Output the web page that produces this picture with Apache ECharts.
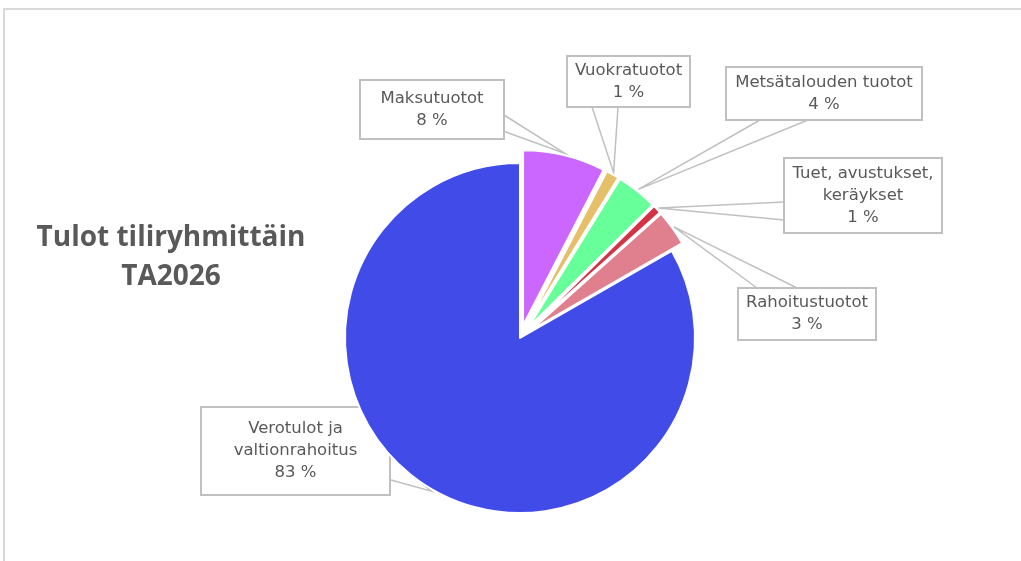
<!DOCTYPE html>
<html>
<head>
<meta charset="utf-8">
<script src="https://cdn.jsdelivr.net/npm/echarts@6/dist/echarts.min.js"></script>
<style>
  html, body { margin: 0; padding: 0; background: #fff; }
  #chart { width: 1021px; height: 561px; }
</style>
</head>
<body>
<div id="chart"></div>
<script>
// tiliryhmät ja osuudet (%)
const categories = ['Maksutuotot', 'Vuokratuotot', 'Metsätalouden tuotot', 'Tuet, avustukset,\nkeräykset', 'Rahoitustuotot', 'Verotulot ja\nvaltionrahoitus'];
const values = [7.6, 1.2, 3.8, 0.8, 3.3, 83.3];
const exploded = [true, true, true, true, true, false];
const colors = ['#CB66FF', '#E6BF69', '#66FF99', '#D43346', '#E0808F', '#404BE8'];

// layout: label boxes [cx, cy, w, h] and the two points where the pointer leaves the box
const pieCenter = [520, 338];
const pieRadius = 175;
const explodeOffset = 13;
const lineH = 22;
const labelBoxes = [[432, 109.5, 144, 59], [628.5, 81.5, 123, 51], [824, 93.5, 196, 53], [863, 195.5, 158, 75], [807, 314, 138, 52], [295.5, 451, 189, 88]];
const pointerBase = [[[504, 115], [503, 131]], [[592, 107], [618, 107]], [[760, 120], [808, 120]], [[784, 202], [784, 220]], [[757, 288], [797, 288]], [[391, 457], [391, 480]]];

let chart = echarts.init(document.getElementById('chart'));

function labelFor(i) {
    let b = labelBoxes[i];
    let lines = categories[i].split('\n').length + 1;
    let padH = 3;
    return {
        width: b[2] - 2 * padH - 2,
        padding: [(b[3] - lines * lineH) / 2 - 1, padH]
    };
}

let option = {
    animation: false,
    graphic: [
        {
            type: 'rect',
            shape: { x: 4, y: 9, width: 1100, height: 600 },
            style: { fill: 'none', stroke: '#d9d9d9', lineWidth: 2 }
        },
        {
            type: 'text',
            x: 171,
            y: 258,
            style: {
                text: 'Tulot tiliryhmittäin\nTA2026',
                fill: '#595959',
                font: 'bold 28px "Open Sans"',
                align: 'center',
                verticalAlign: 'middle',
                lineHeight: 39
            }
        }
    ],
    series: [
        {
            // slices, small ones exploded
            type: 'pie',
            z: 3,
            center: pieCenter,
            radius: pieRadius,
            startAngle: 90,
            clockwise: true,
            selectedMode: 'multiple',
            selectedOffset: explodeOffset,
            silent: true,
            itemStyle: { borderColor: '#fff', borderWidth: 2 },
            label: { show: false },
            labelLine: { show: false },
            emphasis: { disabled: true },
            data: categories.map((c, i) => ({
                name: c,
                value: values[i],
                selected: exploded[i],
                itemStyle: { color: colors[i] }
            }))
        },
        {
            // data labels with pointers
            type: 'pie',
            z: 2,
            center: pieCenter,
            radius: pieRadius,
            startAngle: 90,
            clockwise: true,
            silent: true,
            percentPrecision: 0,
            itemStyle: { color: 'rgba(0,0,0,0)', borderWidth: 0 },
            label: {
                formatter: '{b}\n{d} %',
                color: '#595959',
                fontFamily: 'DejaVu Sans',
                fontSize: 16.5,
                lineHeight: lineH,
                align: 'center',
                overflow: 'none',
                backgroundColor: '#fff',
                borderColor: '#c0c0c0',
                borderWidth: 2
            },
            labelLine: {
                show: true,
                lineStyle: { color: '#c0c0c0', width: 1.5 }
            },
            labelLayout: function (params) {
                let i = params.dataIndex;
                let b = labelBoxes[i];
                let p0 = params.labelLinePoints[0];
                let dx = p0[0] - pieCenter[0], dy = p0[1] - pieCenter[1];
                let len = Math.sqrt(dx * dx + dy * dy);
                let r = len + (exploded[i] ? explodeOffset : 0) + 2;
                let tip = [pieCenter[0] + dx / len * r, pieCenter[1] + dy / len * r];
                return {
                    x: b[0],
                    y: b[1],
                    align: 'center',
                    verticalAlign: 'middle',
                    labelLinePoints: [pointerBase[i][0], tip, pointerBase[i][1]]
                };
            },
            emphasis: { disabled: true },
            data: categories.map((c, i) => ({
                name: c,
                value: values[i],
                label: labelFor(i)
            }))
        }
    ]
};

chart.setOption(option);
</script>
</body>
</html>
